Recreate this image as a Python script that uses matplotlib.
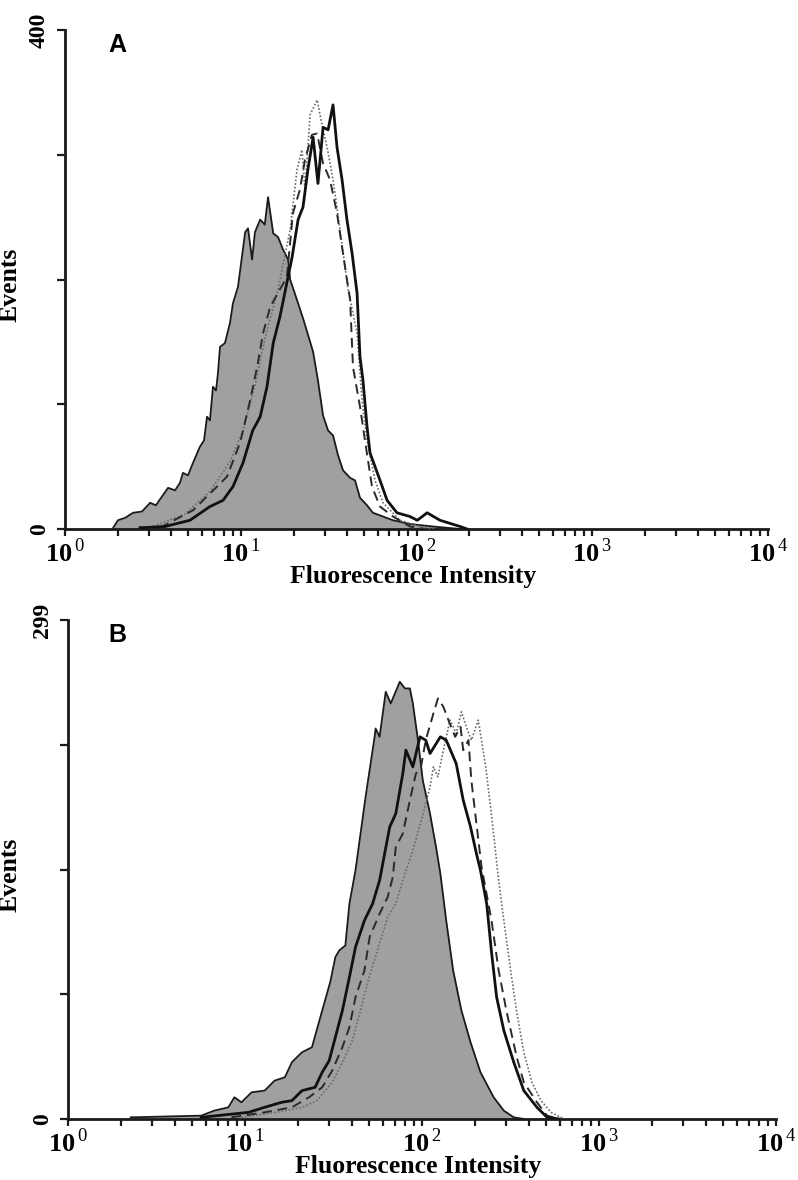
import numpy as np
import matplotlib
matplotlib.use("Agg")
import matplotlib.pyplot as plt
from matplotlib.ticker import FixedLocator, FixedFormatter, LogLocator, NullFormatter

plt.rcParams["font.family"] = ["Liberation Serif", "DejaVu Serif"]
plt.rcParams["mathtext.fontset"] = "custom"
plt.rcParams["mathtext.rm"] = "Liberation Serif"
plt.rcParams["mathtext.bf"] = "Liberation Serif:bold"

# ---- Panel A data (fluorescence intensity, events) ----
a_ctrl_x = [1.88, 2.00, 2.20, 2.44, 2.74, 3.05, 3.29, 3.56, 3.86, 4.23, 4.51, 4.69, 5.01,
            5.35, 5.86, 6.18, 6.43, 6.68, 6.95, 7.23, 7.42, 7.62, 8.13, 8.68, 9.03, 9.64,
            10.6, 11.0, 11.6, 12.05, 12.9, 13.7, 14.3, 15.3, 16.3, 17.4, 18.6, 19.1, 20.4,
            22.6, 24.1, 25.8, 27.5, 29.4, 31.4, 33.5, 35.8, 38.2, 41.9, 44.7, 47.7, 52.3,
            56.5, 64.5, 73.5, 91.8, 124, 177]
a_ctrl_y = [1, 7, 9, 13, 14, 21, 19, 26, 33, 31, 37, 45, 43,
            53, 66, 71, 90, 87, 114, 111, 125, 146, 149, 165, 181, 194,
            238, 241, 216, 238, 248, 244, 266, 237, 234, 224, 216, 200, 188,
            169, 156, 142, 119, 91, 79, 75, 59, 47, 41, 39, 25, 19,
            13, 10, 7, 4, 2, 0]

a_solid_x = [2.67, 3.71, 5.14, 6.68, 7.93, 9.03, 10.3, 11.7, 12.9, 14.1, 15.3, 16.7, 19.6,
             21.2, 22.6, 24.1, 25.8, 27.5, 29.4, 31.4, 33.5, 35.3, 37.7, 40.2, 43.0, 45.9,
             47.7, 49.6, 52.3, 54.4, 62.0, 68.0, 77.4, 91.8, 101, 115, 136, 177, 194]
a_solid_y = [1, 2, 7, 18, 23, 34, 53, 79, 90, 114, 149, 170, 218,
             248, 258, 288, 314, 277, 322, 320, 340, 306, 280, 248, 221, 189,
             138, 119, 82, 61, 39, 23, 13, 10, 7, 13, 7, 2, 0]

a_dash_x = [3.47, 5.35, 7.33, 8.35, 9.91, 11.3, 12.4, 13.4, 14.7, 18.3, 19.8, 21.7, 23.2,
            25.4, 27.2, 29.4, 32.2, 35.3, 37.7, 40.2, 41.9, 43.5, 47.7, 50.9, 55.8, 62.0,
            73.5, 91.8, 112]
a_dash_y = [1, 15, 34, 42, 69, 103, 130, 157, 178, 202, 253, 272, 296,
            316, 317, 293, 280, 253, 226, 200, 184, 130, 98, 71, 34, 18,
            10, 2, 0]

a_dot_x = [3.05, 4.82, 6.68, 8.68, 10.3, 12.05, 13.7, 16.3, 19.1, 20.9, 22.3, 23.2, 24.8,
           27.2, 29.0, 31.0, 33.5, 36.7, 40.8, 45.9, 49.0, 52.3, 58.1, 64.5, 80.5, 105, 127]
a_dot_y = [1, 12, 30, 54, 79, 115, 152, 192, 240, 288, 304, 272, 332,
           344, 324, 306, 280, 240, 192, 157, 103, 71, 39, 21, 7, 2, 0]

# ---- Panel B data ----
b_ctrl_x = [2.26, 5.65, 6.70, 8.05, 8.71, 9.55, 10.9, 12.9, 14.7, 16.8, 18.4, 21.0, 23.9,
            27.3, 30.3, 32.4, 34.1, 36.9, 38.9, 42.1, 48.0, 54.0, 54.7, 57.6, 62.4, 66.6,
            74.9, 80.0, 85.4, 88.8, 94.9, 101, 111, 120, 127, 137, 150, 167, 188, 214,
            254, 290, 330, 376]
b_ctrl_y = [1, 2, 5, 7, 13, 10, 16, 17, 23, 25, 34, 40, 43,
            65, 82, 97, 101, 104, 129, 149, 193, 229, 234, 229, 256, 249,
            262, 258, 258, 249, 227, 203, 183, 163, 147, 119, 89, 65, 46, 28,
            13, 5, 1, 0]

b_solid_x = [5.65, 10.5, 12.9, 16.1, 18.4, 21.0, 24.9, 27.3, 29.9, 32.4, 35.5, 38.9, 42.1,
             47.3, 52.6, 57.6, 65.7, 71.1, 77.9, 81.1, 88.8, 97.4, 105, 111, 127, 137,
             156, 171, 188, 203, 214, 232, 247, 264, 290, 330, 376, 446, 509, 596]
b_solid_y = [1, 4, 7, 10, 11, 17, 19, 28, 35, 49, 65, 85, 103,
             119, 129, 143, 175, 183, 207, 221, 211, 229, 227, 219, 229, 227,
             213, 191, 175, 159, 149, 129, 100, 73, 53, 34, 17, 7, 1, 0]

b_dash_x = [8.38, 12.9, 18.4, 23.0, 27.3, 31.1, 35.5, 38.9, 42.1, 47.3, 50.6, 57.6, 64.0,
            68.4, 71.1, 77.9, 85.4, 92.4, 98.7, 105, 116, 123, 132, 141, 154, 165, 171,
            183, 190, 203, 217, 247, 271, 301, 343, 376, 446, 509, 596]
b_dash_y = [1, 4, 7, 13, 19, 29, 43, 55, 73, 89, 109, 123, 133,
            145, 163, 171, 191, 207, 211, 227, 243, 252, 247, 239, 229, 235, 221,
            227, 203, 177, 151, 119, 89, 64, 37, 22, 10, 2, 0]

b_dot_x = [9.55, 15.1, 21.0, 25.5, 31.1, 35.5, 40.4, 44.9, 50.6, 56.1, 64.0, 71.1, 77.9,
           88.8, 101, 111, 116, 123, 132, 144, 150, 156, 167, 178, 190, 208, 229, 244,
           261, 271, 290, 317, 343, 376, 418, 470, 536, 636]
b_dot_y = [1, 4, 7, 11, 22, 34, 47, 65, 86, 101, 121, 129, 143,
           161, 182, 199, 211, 205, 221, 239, 235, 231, 244, 235, 227, 239, 211, 187,
           159, 143, 119, 89, 64, 40, 22, 11, 4, 0]

panels = [
    dict(label="A", ymax=400, ctrl=(a_ctrl_x, a_ctrl_y), solid=(a_solid_x, a_solid_y),
         dash=(a_dash_x, a_dash_y), dot=(a_dot_x, a_dot_y)),
    dict(label="B", ymax=299, ctrl=(b_ctrl_x, b_ctrl_y), solid=(b_solid_x, b_solid_y),
         dash=(b_dash_x, b_dash_y), dot=(b_dot_x, b_dot_y)),
]

fig = plt.figure(figsize=(7.98, 11.8), dpi=100)
W, H = 798, 1180
boxes = [(65, 529, 768, 413), (68, 1119, 776, 418)]  # left, bottom, right, xlabel centre (px)

for p, (left, bottom, right, xlab) in zip(panels, boxes):
    ax = fig.add_axes([left / W, 1 - bottom / H, (right - left) / W, 499 / H])
    cx, cy = p["ctrl"]
    ax.fill_between(cx, cy, 0, color="#a0a0a0", lw=0, zorder=1)
    ax.plot(cx, cy, color="#1a1a1a", lw=1.3, zorder=2)
    ax.plot(*p["dot"], color="#6a6a6a", lw=1.2, ls=(0, (1, 1.2)), zorder=3)
    ax.plot(*p["dash"], color="#2a2a2a", lw=1.4, ls=(0, (5, 3)), zorder=4)
    ax.plot(*p["solid"], color="#111111", lw=2.0, zorder=5)

    ax.set_xscale("log")
    ax.set_xlim(1, 1e4)
    ax.set_ylim(0, p["ymax"])
    for s in ("top", "right"):
        ax.spines[s].set_visible(False)
    for s in ("left", "bottom"):
        ax.spines[s].set_linewidth(2.0)
        ax.spines[s].set_color("#1a1a1a")

    ax.xaxis.set_major_locator(FixedLocator([1, 10, 100, 1000, 10000]))
    ax.xaxis.set_major_formatter(FixedFormatter(
        [r"$\mathbf{10}^{\,0}$", r"$\mathbf{10}^{\,1}$", r"$\mathbf{10}^{\,2}$",
         r"$\mathbf{10}^{\,3}$", r"$\mathbf{10}^{\,4}$"]))
    ax.xaxis.set_minor_locator(LogLocator(base=10, subs=np.arange(2, 10), numticks=20))
    ax.xaxis.set_minor_formatter(NullFormatter())
    ax.tick_params(axis="x", which="both", direction="out", length=5, width=1.6,
                   color="#1a1a1a", labelsize=19, pad=2)

    ymax = p["ymax"]
    ax.set_yticks(np.linspace(0, ymax, 5))
    ax.set_yticklabels(["0", "", "", "", str(ymax)], rotation=90, va="center",
                       fontsize=17, fontweight="bold")
    ax.tick_params(axis="y", direction="out", length=6, width=1.6, color="#1a1a1a", pad=5)

    ax.set_xlabel("Fluorescence Intensity", fontsize=18.5, fontweight="bold")
    ax.xaxis.set_label_coords((xlab - left) / (right - left), -36 / 499)
    ax.set_ylabel("Events", fontsize=18.5, fontweight="bold")
    ax.yaxis.set_label_coords((22 - left) / (right - left), 0.49)
    ax.text((117 - left) / (right - left), 0.97, p["label"], transform=ax.transAxes,
            fontsize=18, fontweight="bold", family="Liberation Sans",
            va="center", ha="center")

fig.savefig("out.png", dpi=100, facecolor="white")
